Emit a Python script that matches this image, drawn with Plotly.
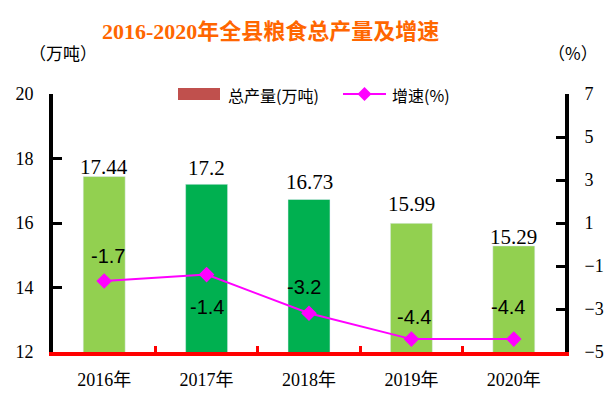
import plotly.graph_objects as go

# ---- data ----
years = ["2016年", "2017年", "2018年", "2019年", "2020年"]
output_wt = [17.44, 17.2, 16.73, 15.99, 15.29]      # 总产量(万吨)
growth_pct = [-1.7, -1.4, -3.2, -4.4, -4.4]          # 增速(%)
left_ticks = [12, 14, 16, 18, 20]
right_ticks = [-5, -3, -1, 1, 3, 5, 7]

# ---- styles ----
bar_colors = ["#92D050", "#00B050", "#00B050", "#92D050", "#92D050"]
bar_label_yshift = [10, 16, 17, 19, 9]
label_yshift = [25, -32, 26, 22, 32]
label_xshift = [4, 0, -5, 3, -6]

W, H = 610, 411
L, R, T, B = 53, 45, 94, 59
pw, ph = W - L - R, H - T - B

def px(x):
    return (x - L) / pw

def py(y):
    return (H - B - y) / ph

SERIF = "Liberation Serif, Noto Sans CJK SC"
CJK = "Noto Sans CJK SC"

fig = go.Figure()
fig.add_trace(go.Bar(
    x=years, y=output_wt, marker_color=bar_colors, width=0.41,
    showlegend=False, yaxis="y", hoverinfo="x+y",
))
fig.add_trace(go.Scatter(
    x=years, y=growth_pct, mode="lines+markers", yaxis="y2",
    line=dict(color="#FF00FF", width=2),
    marker=dict(symbol="diamond", size=12, color="#FF00FF"),
    showlegend=False, cliponaxis=False,
))

annotations = []
# bar value labels, above each bar
for i, (yr, v) in enumerate(zip(years, output_wt)):
    annotations.append(dict(
        x=yr, y=v, xref="x", yref="y", text=f"{v:g}", showarrow=False,
        xanchor="center", yanchor="middle", yshift=bar_label_yshift[i],
        font=dict(family="Liberation Serif", size=21, color="#000000"),
    ))
# growth labels
for i, (yr, g) in enumerate(zip(years, growth_pct)):
    annotations.append(dict(
        x=yr, y=g, xref="x", yref="y2", text=f"{g:g}", showarrow=False,
        yshift=label_yshift[i], xshift=label_xshift[i],
        xanchor="center", yanchor="middle",
        font=dict(family="Liberation Sans, Arial", size=20, color="#000000"),
    ))

def paper_text(text, x, y, size, anchor="center", color="#000000", family=CJK):
    return dict(text=text, xref="paper", yref="paper", x=px(x), y=py(y),
                xanchor=anchor, yanchor="middle", showarrow=False,
                font=dict(family=family, size=size, color=color))

annotations += [
    paper_text("<b>2016-2020年全县粮食总产量及增速</b>", 270, 31, 22,
               color="#FF6600", family=SERIF),
    paper_text("（万吨）", 63, 53, 17),
    paper_text("（%）", 573, 53, 17),
    paper_text("总产量(万吨)", 226, 95, 16, anchor="left"),
    paper_text("增速(%)", 390, 95, 16, anchor="left"),
]

cx, cy, d = 364.5, 94, 7
shapes = [
    dict(type="rect", xref="paper", yref="paper", x0=px(178), x1=px(220),
         y0=py(100), y1=py(88), fillcolor="#C0504D", line=dict(width=0)),
    dict(type="line", xref="paper", yref="paper", x0=px(343), x1=px(386),
         y0=py(94), y1=py(94), line=dict(color="#FF00FF", width=2)),
    dict(type="path", xref="paper", yref="paper",
         path=f"M {px(cx-d)},{py(cy)} L {px(cx)},{py(cy-d)} L {px(cx+d)},{py(cy)} L {px(cx)},{py(cy+d)} Z",
         fillcolor="#FF00FF", line=dict(width=0)),
]

fig.update_layout(
    width=W, height=H, margin=dict(l=L, r=R, t=T, b=B, autoexpand=False),
    paper_bgcolor="white", plot_bgcolor="white",
    showlegend=False, bargap=0.59,
    annotations=annotations, shapes=shapes,
    xaxis=dict(
        type="category", showline=True, linecolor="#FF0000", linewidth=4,
        ticks="inside", tickson="boundaries", ticklen=6, tickwidth=3,
        tickcolor="#FF0000", showgrid=False, zeroline=False,
        tickfont=dict(family=SERIF, size=18, color="#000000"),
        ticklabelstandoff=8,
    ),
    yaxis=dict(
        range=[12, 20], tickvals=left_ticks, showline=True, linecolor="#000000",
        linewidth=4, ticks="inside", ticklen=9, tickwidth=3, tickcolor="#000000",
        showgrid=False, zeroline=False,
        tickfont=dict(family="Liberation Serif", size=18, color="#000000"),
        ticklabelstandoff=12,
    ),
    yaxis2=dict(
        range=[-5, 7], tickvals=right_ticks, overlaying="y", side="right",
        showline=True, linecolor="#000000", linewidth=4, ticks="inside",
        ticklen=9, tickwidth=3, tickcolor="#000000", showgrid=False,
        zeroline=False,
        tickfont=dict(family="Liberation Serif", size=18, color="#000000"),
        ticklabelstandoff=12,
    ),
)

fig.write_html("out.html", config={"displayModeBar": False},
               post_script="document.body.style.margin='0';")
